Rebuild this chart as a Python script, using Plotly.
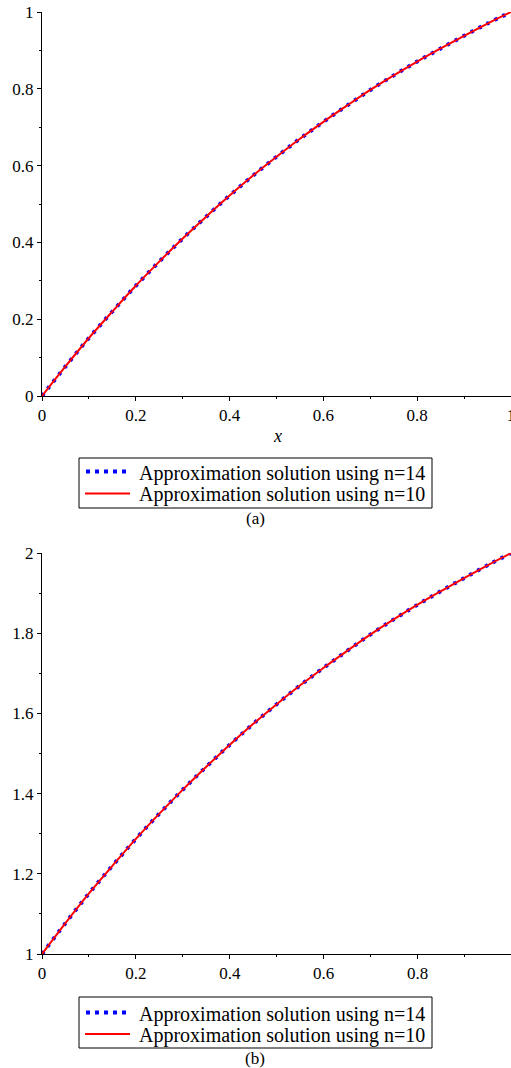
import plotly.graph_objects as go

# x positions
x_vals = [0.0, 0.05, 0.1, 0.15, 0.2, 0.25, 0.3, 0.35, 0.4, 0.45, 0.5,
          0.55, 0.6, 0.65, 0.7, 0.75, 0.8, 0.85, 0.9, 0.95, 1.0]

# panel (a)
a_n14 = [0.0, 0.077, 0.151, 0.220, 0.287, 0.350, 0.410, 0.467, 0.522, 0.574, 0.623,
         0.670, 0.714, 0.756, 0.797, 0.835, 0.871, 0.905, 0.938, 0.970, 1.0]
a_n10 = [0.0, 0.077, 0.151, 0.220, 0.287, 0.350, 0.410, 0.467, 0.522, 0.574, 0.623,
         0.670, 0.714, 0.756, 0.797, 0.835, 0.871, 0.905, 0.938, 0.970, 1.0]

# panel (b)
b_n14 = [1.0, 1.077, 1.151, 1.220, 1.287, 1.350, 1.410, 1.467, 1.522, 1.574, 1.623,
         1.670, 1.714, 1.756, 1.797, 1.835, 1.871, 1.905, 1.938, 1.970, 2.0]
b_n10 = [1.0, 1.077, 1.151, 1.220, 1.287, 1.350, 1.410, 1.467, 1.522, 1.574, 1.623,
         1.670, 1.714, 1.756, 1.797, 1.835, 1.871, 1.905, 1.938, 1.970, 2.0]

name14 = "Approximation solution using n=14"
name10 = "Approximation solution using n=10"

FONT = "Liberation Serif"
W, H = 511, 1068
BLUE, RED = "#0000ff", "#ff0000"


def px_x(ax):
    return ax / W


def px_y(ay):
    return (H - ay) / H


fig = go.Figure()
blue = dict(color=BLUE, width=4, dash="3px,6px", shape="spline")
red = dict(color=RED, width=2, shape="spline")

fig.add_trace(go.Scatter(x=x_vals, y=a_n14, mode="lines", name=name14, line=blue,
                         xaxis="x", yaxis="y"))
fig.add_trace(go.Scatter(x=x_vals, y=a_n10, mode="lines", name=name10, line=red,
                         xaxis="x", yaxis="y"))
fig.add_trace(go.Scatter(x=x_vals, y=b_n14, mode="lines", name=name14, line=blue,
                         xaxis="x2", yaxis="y2"))
fig.add_trace(go.Scatter(x=x_vals, y=b_n10, mode="lines", name=name10, line=red,
                         xaxis="x2", yaxis="y2"))

axis_common = dict(showgrid=False, zeroline=False, showline=True, linecolor="black",
                   linewidth=1, ticks="outside", ticklen=4, tickcolor="black",
                   automargin=False, ticklabeloverflow="allow",
                   tickfont=dict(family=FONT, size=17, color="black"),
                   minor=dict(ticks="outside", ticklen=2, dtick=0.1, tickcolor="black"))

# boxed legends (one per panel), drawn as paper-referenced shapes and text
shapes = []
annotations = [
    dict(text="<i>x</i>", x=px_x(277), y=px_y(436), xref="paper", yref="paper",
         xanchor="center", yanchor="middle",
         showarrow=False, font=dict(family=FONT, size=18, color="black")),
    dict(text="(a)", x=px_x(255), y=px_y(518), xref="paper", yref="paper",
         xanchor="center", yanchor="middle",
         showarrow=False, font=dict(family=FONT, size=17, color="black")),
    dict(text="(b)", x=px_x(255), y=px_y(1058), xref="paper", yref="paper",
         xanchor="center", yanchor="middle",
         showarrow=False, font=dict(family=FONT, size=17, color="black")),
]
for top, bottom, y1, y2 in [(458, 508, 471.5, 493.5), (997, 1048, 1012.5, 1034)]:
    shapes.append(dict(type="rect", xref="paper", yref="paper",
                       x0=px_x(79), x1=px_x(432), y0=px_y(bottom), y1=px_y(top),
                       line=dict(color="black", width=1), fillcolor="white"))
    shapes.append(dict(type="line", xref="paper", yref="paper",
                       x0=px_x(86), x1=px_x(131), y0=px_y(y1), y1=px_y(y1),
                       line=dict(color=BLUE, width=4, dash="4px,5px")))
    shapes.append(dict(type="line", xref="paper", yref="paper",
                       x0=px_x(85), x1=px_x(130), y0=px_y(y2), y1=px_y(y2),
                       line=dict(color=RED, width=2)))
    for name, yy in [(name14, y1 + 1.5), (name10, y2 + 1.5)]:
        annotations.append(dict(text=name, x=px_x(137), y=px_y(yy), xref="paper", yref="paper",
                                xanchor="left", yanchor="middle", showarrow=False,
                                font=dict(family=FONT, size=20, color="black")))

fig.update_layout(
    width=W, height=H, margin=dict(l=0, r=0, t=0, b=0, autoexpand=False),
    paper_bgcolor="white", plot_bgcolor="white",
    font=dict(family=FONT, color="black"),
    xaxis=dict(domain=[px_x(42), 1], range=[0, 1], dtick=0.2, tick0=0, anchor="y",
               **axis_common),
    yaxis=dict(domain=[px_y(396), px_y(12)], range=[0, 1], dtick=0.2, tick0=0, anchor="x",
               **axis_common),
    xaxis2=dict(domain=[px_x(42), 1], range=[0, 0.999], dtick=0.2, tick0=0, anchor="y2",
                **axis_common),
    yaxis2=dict(domain=[px_y(954), px_y(553)], range=[1, 2], dtick=0.2, tick0=0, anchor="x2",
                **axis_common),
    shapes=shapes,
    annotations=annotations,
    showlegend=False,
)

fig.write_html("out.html", config={"displayModeBar": False},
               post_script="document.body.style.margin='0';")
